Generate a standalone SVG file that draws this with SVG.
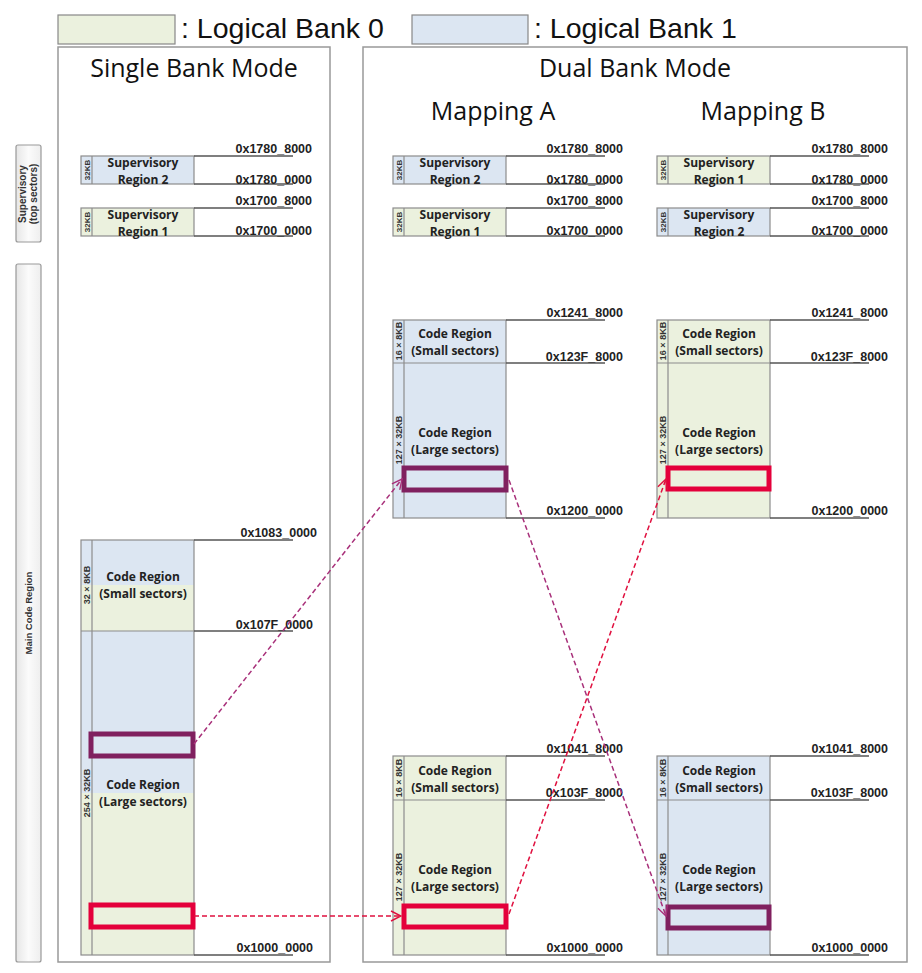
<svg xmlns="http://www.w3.org/2000/svg" width="922" height="973" viewBox="0 0 922 973">
<defs>
<linearGradient id="side" x1="0" y1="0" x2="1" y2="0">
<stop offset="0" stop-color="#e6e6e6"/><stop offset="0.5" stop-color="#fbfbfb"/><stop offset="1" stop-color="#eeeeee"/>
</linearGradient>
<marker id="ap" viewBox="0 0 12 12" refX="11" refY="6" markerWidth="12" markerHeight="12" markerUnits="userSpaceOnUse" orient="auto">
<path d="M1,1 L11,6 L1,11" fill="none" stroke="#a8307a" stroke-width="1.4"/>
</marker>
<marker id="ar" viewBox="0 0 12 12" refX="11" refY="6" markerWidth="12" markerHeight="12" markerUnits="userSpaceOnUse" orient="auto">
<path d="M1,1 L11,6 L1,11" fill="none" stroke="#e0103f" stroke-width="1.4"/>
</marker>
</defs>
<style>
.panel{fill:#fff;stroke:#999;stroke-width:1.5}
.g{fill:#ebf1de}
.b{fill:#dce6f2}
.box{fill:none;stroke:#8c8c8c;stroke-width:1.2}
.al{stroke:#555;stroke-width:1.6;fill:none}
.title{font-family:"Open Sans","Liberation Sans",sans-serif;font-size:25px;fill:#111;text-anchor:middle}
.leg{font-family:"Liberation Sans",Arial,sans-serif;font-size:28.5px;fill:#111}
.lbl{font-family:"Open Sans","Liberation Sans",sans-serif;font-size:12px;font-weight:bold;fill:#222;text-anchor:middle}
.adr{font-family:"Liberation Sans",Arial,sans-serif;font-size:12.5px;font-weight:bold;fill:#222;text-anchor:end}
.sm{font-family:"Liberation Sans",Arial,sans-serif;font-size:9px;font-weight:bold;fill:#333;text-anchor:middle}
.k{font-size:8px}
.pr{fill:none;stroke:#80205f;stroke-width:5}
.rr{fill:none;stroke:#e4003b;stroke-width:5}
.dp{fill:none;stroke:#a8307a;stroke-width:1.5;stroke-dasharray:5 3}
.dr{fill:none;stroke:#e0103f;stroke-width:1.5;stroke-dasharray:5 3}
</style>
<rect width="922" height="973" fill="#fff"/>

<g id="legend">
<rect x="58" y="15" width="117" height="29" class="g" stroke="#888" stroke-width="1.2"/>
<text x="181" y="38" class="leg">: Logical Bank 0</text>
<rect x="412" y="15" width="116" height="29" class="b" stroke="#888" stroke-width="1.2"/>
<text x="534" y="38" class="leg">: Logical Bank 1</text>
</g>

<g id="side-labels">
<rect x="16" y="145" width="25" height="97" rx="2" fill="url(#side)" stroke="#999" stroke-width="1.2"/>
<text transform="translate(26,194) rotate(-90)" class="sm" style="font-size:10px">Supervisory</text>
<text transform="translate(37,194) rotate(-90)" class="sm" style="font-size:10px">(top sectors)</text>
<rect x="16" y="264" width="25" height="698" rx="2" fill="url(#side)" stroke="#999" stroke-width="1.2"/>
<text transform="translate(32,613) rotate(-90)" class="sm" style="font-size:9.5px">Main Code Region</text>
</g>

<g id="single-bank">
<rect x="58" y="47" width="272" height="915" class="panel"/>
<text x="194" y="77" class="title">Single Bank Mode</text>
<g id="s-sup2">
<rect x="81" y="156" width="113" height="28" class="b"/>
<rect x="81" y="156" width="113" height="28" class="box"/>
<line x1="92" y1="156" x2="92" y2="184" class="box"/>
<text transform="translate(89.5,170) rotate(-90)" class="sm k">32KB</text>
<text x="143" y="167" class="lbl">Supervisory</text>
<text x="143" y="184" class="lbl">Region 2</text>
<path d="M194,156 H293 M194,184 H293" class="al"/>
<text x="312" y="153" class="adr">0x1780_8000</text>
<text x="312" y="184" class="adr">0x1780_0000</text>
</g>
<g id="s-sup1">
<rect x="81" y="208" width="113" height="28" class="g"/>
<rect x="81" y="208" width="113" height="28" class="box"/>
<line x1="92" y1="208" x2="92" y2="236" class="box"/>
<text transform="translate(89.5,222) rotate(-90)" class="sm k">32KB</text>
<text x="143" y="219" class="lbl">Supervisory</text>
<text x="143" y="236" class="lbl">Region 1</text>
<path d="M194,208 H293 M194,236 H293" class="al"/>
<text x="312" y="205" class="adr">0x1700_8000</text>
<text x="312" y="235" class="adr">0x1700_0000</text>
</g>
<g id="s-code">
<rect x="81" y="540" width="113" height="45" class="b"/>
<rect x="81" y="585" width="113" height="46" class="g"/>
<rect x="81" y="631" width="113" height="162" class="b"/>
<rect x="81" y="793" width="113" height="162" class="g"/>
<rect x="81" y="540" width="113" height="415" class="box"/>
<line x1="92" y1="540" x2="92" y2="955" class="box"/>
<line x1="81" y1="631" x2="194" y2="631" class="box"/>
<text transform="translate(89.5,585) rotate(-90)" class="sm">32 × 8KB</text>
<text transform="translate(89.5,793) rotate(-90)" class="sm">254 × 32KB</text>
<text x="143" y="581" class="lbl">Code Region</text>
<text x="143" y="598" class="lbl">(Small sectors)</text>
<text x="143" y="789" class="lbl">Code Region</text>
<text x="143" y="806" class="lbl">(Large sectors)</text>
<path d="M194,540 H293 M194,631 H293 M194,955 H293" class="al"/>
<text x="317" y="537" class="adr">0x1083_0000</text>
<text x="313" y="629" class="adr">0x107F_0000</text>
<text x="313" y="952" class="adr">0x1000_0000</text>
<rect x="91" y="734" width="102" height="22" class="pr"/>
<rect x="91" y="905" width="102" height="22" class="rr"/>
</g>
</g>

<g id="dual-bank">
<rect x="363" y="47" width="544" height="915" class="panel"/>
<text x="635" y="77" class="title">Dual Bank Mode</text>
<text x="493" y="120" class="title">Mapping A</text>
<text x="763" y="120" class="title">Mapping B</text>

<g id="a-sup2">
<rect x="393" y="156" width="113" height="28" class="b"/>
<rect x="393" y="156" width="113" height="28" class="box"/>
<line x1="404" y1="156" x2="404" y2="184" class="box"/>
<text transform="translate(401.5,170) rotate(-90)" class="sm k">32KB</text>
<text x="455" y="167" class="lbl">Supervisory</text>
<text x="455" y="184" class="lbl">Region 2</text>
<path d="M506,156 H605 M506,184 H605" class="al"/>
<text x="623" y="153" class="adr">0x1780_8000</text>
<text x="623" y="184" class="adr">0x1780_0000</text>
</g>
<g id="a-sup1">
<rect x="393" y="208" width="113" height="28" class="g"/>
<rect x="393" y="208" width="113" height="28" class="box"/>
<line x1="404" y1="208" x2="404" y2="236" class="box"/>
<text transform="translate(401.5,222) rotate(-90)" class="sm k">32KB</text>
<text x="455" y="219" class="lbl">Supervisory</text>
<text x="455" y="236" class="lbl">Region 1</text>
<path d="M506,208 H605 M506,236 H605" class="al"/>
<text x="623" y="205" class="adr">0x1700_8000</text>
<text x="623" y="235" class="adr">0x1700_0000</text>
</g>
<g id="a-code-top">
<rect x="393" y="320" width="113" height="198" class="b"/>
<rect x="393" y="320" width="113" height="198" class="box"/>
<line x1="404" y1="320" x2="404" y2="518" class="box"/>
<line x1="393" y1="363" x2="506" y2="363" class="box"/>
<text transform="translate(401.5,341) rotate(-90)" class="sm">16 × 8KB</text>
<text transform="translate(401.5,440) rotate(-90)" class="sm">127 × 32KB</text>
<text x="455" y="338" class="lbl">Code Region</text>
<text x="455" y="355" class="lbl">(Small sectors)</text>
<text x="455" y="437" class="lbl">Code Region</text>
<text x="455" y="454" class="lbl">(Large sectors)</text>
<path d="M506,320 H605 M506,363 H605 M506,518 H605" class="al"/>
<text x="623" y="317" class="adr">0x1241_8000</text>
<text x="623" y="361" class="adr">0x123F_8000</text>
<text x="623" y="515" class="adr">0x1200_0000</text>
<rect x="404" y="468" width="102" height="22" class="pr"/>
</g>
<g id="a-code-bottom">
<rect x="393" y="756" width="113" height="199" class="g"/>
<rect x="393" y="756" width="113" height="199" class="box"/>
<line x1="404" y1="756" x2="404" y2="955" class="box"/>
<line x1="393" y1="800" x2="506" y2="800" class="box"/>
<text transform="translate(401.5,778) rotate(-90)" class="sm">16 × 8KB</text>
<text transform="translate(401.5,877) rotate(-90)" class="sm">127 × 32KB</text>
<text x="455" y="775" class="lbl">Code Region</text>
<text x="455" y="792" class="lbl">(Small sectors)</text>
<text x="455" y="874" class="lbl">Code Region</text>
<text x="455" y="891" class="lbl">(Large sectors)</text>
<path d="M506,756 H605 M506,800 H605 M506,955 H605" class="al"/>
<text x="623" y="753" class="adr">0x1041_8000</text>
<text x="623" y="797" class="adr">0x103F_8000</text>
<text x="623" y="952" class="adr">0x1000_0000</text>
<rect x="404" y="906" width="102" height="21" class="rr"/>
</g>

<g id="b-sup1">
<rect x="657" y="156" width="113" height="28" class="g"/>
<rect x="657" y="156" width="113" height="28" class="box"/>
<line x1="668" y1="156" x2="668" y2="184" class="box"/>
<text transform="translate(665.5,170) rotate(-90)" class="sm k">32KB</text>
<text x="719" y="167" class="lbl">Supervisory</text>
<text x="719" y="184" class="lbl">Region 1</text>
<path d="M770,156 H869 M770,184 H869" class="al"/>
<text x="888" y="153" class="adr">0x1780_8000</text>
<text x="888" y="184" class="adr">0x1780_0000</text>
</g>
<g id="b-sup2">
<rect x="657" y="208" width="113" height="28" class="b"/>
<rect x="657" y="208" width="113" height="28" class="box"/>
<line x1="668" y1="208" x2="668" y2="236" class="box"/>
<text transform="translate(665.5,222) rotate(-90)" class="sm k">32KB</text>
<text x="719" y="219" class="lbl">Supervisory</text>
<text x="719" y="236" class="lbl">Region 2</text>
<path d="M770,208 H869 M770,236 H869" class="al"/>
<text x="888" y="205" class="adr">0x1700_8000</text>
<text x="888" y="235" class="adr">0x1700_0000</text>
</g>
<g id="b-code-top">
<rect x="657" y="320" width="113" height="198" class="g"/>
<rect x="657" y="320" width="113" height="198" class="box"/>
<line x1="668" y1="320" x2="668" y2="518" class="box"/>
<line x1="657" y1="363" x2="770" y2="363" class="box"/>
<text transform="translate(665.5,341) rotate(-90)" class="sm">16 × 8KB</text>
<text transform="translate(665.5,440) rotate(-90)" class="sm">127 × 32KB</text>
<text x="719" y="338" class="lbl">Code Region</text>
<text x="719" y="355" class="lbl">(Small sectors)</text>
<text x="719" y="437" class="lbl">Code Region</text>
<text x="719" y="454" class="lbl">(Large sectors)</text>
<path d="M770,320 H869 M770,363 H869 M770,518 H869" class="al"/>
<text x="888" y="317" class="adr">0x1241_8000</text>
<text x="888" y="361" class="adr">0x123F_8000</text>
<text x="888" y="515" class="adr">0x1200_0000</text>
<rect x="668" y="468" width="101" height="21" class="rr"/>
</g>
<g id="b-code-bottom">
<rect x="657" y="756" width="113" height="199" class="b"/>
<rect x="657" y="756" width="113" height="199" class="box"/>
<line x1="668" y1="756" x2="668" y2="955" class="box"/>
<line x1="657" y1="800" x2="770" y2="800" class="box"/>
<text transform="translate(665.5,778) rotate(-90)" class="sm">16 × 8KB</text>
<text transform="translate(665.5,877) rotate(-90)" class="sm">127 × 32KB</text>
<text x="719" y="775" class="lbl">Code Region</text>
<text x="719" y="792" class="lbl">(Small sectors)</text>
<text x="719" y="874" class="lbl">Code Region</text>
<text x="719" y="891" class="lbl">(Large sectors)</text>
<path d="M770,756 H869 M770,800 H869 M770,955 H869" class="al"/>
<text x="888" y="753" class="adr">0x1041_8000</text>
<text x="888" y="797" class="adr">0x103F_8000</text>
<text x="888" y="952" class="adr">0x1000_0000</text>
<rect x="668" y="907" width="101" height="21" class="pr"/>
</g>
</g>

<g id="connectors">
<line x1="194" y1="744" x2="402" y2="479" class="dp" marker-end="url(#ap)"/>
<line x1="194" y1="916" x2="401" y2="916" class="dr" marker-end="url(#ar)"/>
<line x1="509" y1="914" x2="666" y2="479" class="dr" marker-end="url(#ar)"/>
<line x1="509" y1="480" x2="666" y2="916" class="dp" marker-end="url(#ap)"/>
</g>
</svg>
